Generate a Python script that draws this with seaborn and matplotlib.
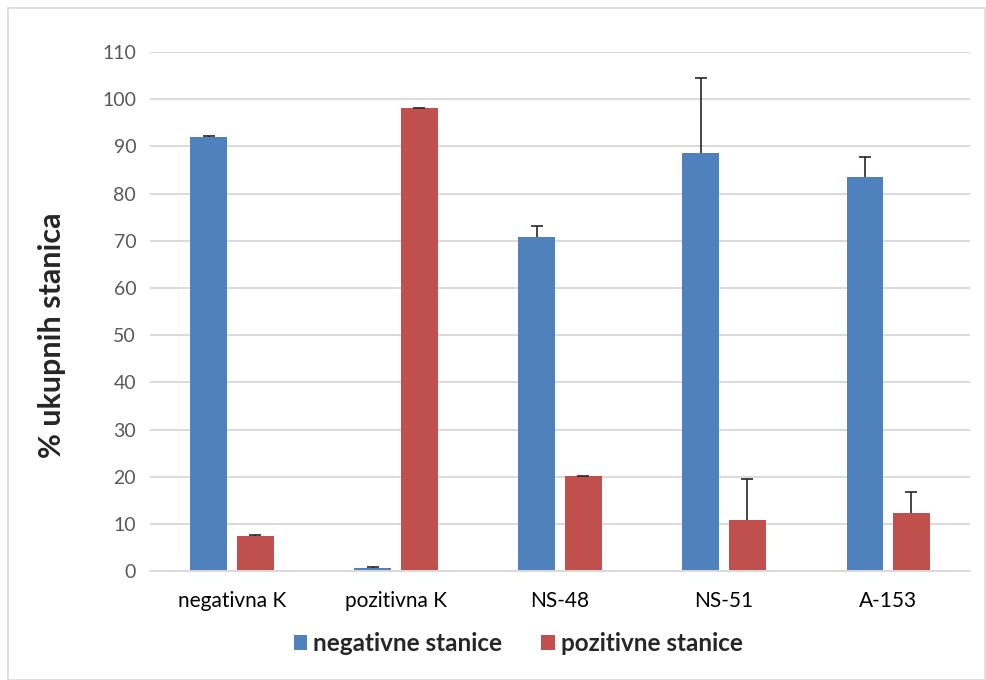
import matplotlib
matplotlib.use("Agg")
import matplotlib.pyplot as plt
import seaborn as sns
import pandas as pd
import numpy as np
from matplotlib.patches import Rectangle

categories = ["negativna K", "pozitivna K", "NS-48", "NS-51", "A-153"]
series = ["negativne stanice", "pozitivne stanice"]
neg_values = [92.0, 0.6, 70.9, 88.7, 83.6]
pos_values = [7.5, 98.1, 20.1, 10.9, 12.4]
neg_err = [0.2, 0.2, 2.3, 15.9, 4.2]
pos_err = [0.1, 0.1, 0.1, 8.7, 4.3]
yticks = [0, 10, 20, 30, 40, 50, 60, 70, 80, 90, 100, 110]
colors = ["#4f81bd", "#c0504d"]

df = pd.DataFrame({
    "cat": categories * 2,
    "series": [series[0]] * 5 + [series[1]] * 5,
    "val": neg_values + pos_values,
    "err": neg_err + pos_err,
})

sns.set_theme(style="white")
plt.rcParams["font.family"] = ["Lato", "DejaVu Sans"]

fig = plt.figure(figsize=(9.87, 6.8), dpi=100)
ax = fig.add_axes([0.152, 0.160, 0.831, 0.7635])

sns.barplot(data=df, x="cat", y="val", hue="series", order=categories,
            hue_order=series, palette=colors, width=0.568, gap=0.21,
            errorbar=None, ax=ax, saturation=1, edgecolor="none")

# error bars (plus direction only)
for cont, errs in zip(ax.containers, [neg_err, pos_err]):
    xs = [p.get_x() + p.get_width() / 2 for p in cont.patches]
    hs = [p.get_height() for p in cont.patches]
    eb = ax.errorbar(xs, hs, yerr=[np.zeros(len(errs)), errs], fmt="none",
                     ecolor="#262626", elinewidth=1.2, capsize=4.5, capthick=1.2)
    caps = eb[1]
    if len(caps) == 2:
        caps[0].set_visible(False)

ax.set_ylim(0, 110)
ax.set_yticks(yticks)
ax.set_xlim(-0.5, 4.5)
ax.yaxis.grid(True, color="#d9d9d9", linewidth=1.4)
ax.set_axisbelow(True)
for s in ["top", "right", "left"]:
    ax.spines[s].set_visible(False)
ax.spines["bottom"].set_color("#d9d9d9")
ax.spines["bottom"].set_linewidth(1.4)
ax.tick_params(axis="y", length=0, labelsize=14, colors="#595959", pad=10)
ax.tick_params(axis="x", length=0, labelsize=15, colors="#000000", pad=14)
ax.set_xlabel("")
ax.set_ylabel("% ukupnih stanica", fontsize=22, fontweight="bold")
ax.yaxis.set_label_coords(-0.103, 0.455)

leg = ax.legend(loc="center", bbox_to_anchor=(0.449, -0.14), ncol=2,
                frameon=False, prop={"weight": "bold", "size": 17.5},
                handlelength=0.55, handleheight=0.55, handletextpad=0.25,
                columnspacing=1.6)

fig.patches.append(Rectangle((8 / 987, 0.0), 1 - 10 / 987, 1 - 8 / 680,
                             transform=fig.transFigure, fill=False,
                             edgecolor="#d9d9d9", linewidth=1.2))

fig.savefig("out.png", dpi=100)
